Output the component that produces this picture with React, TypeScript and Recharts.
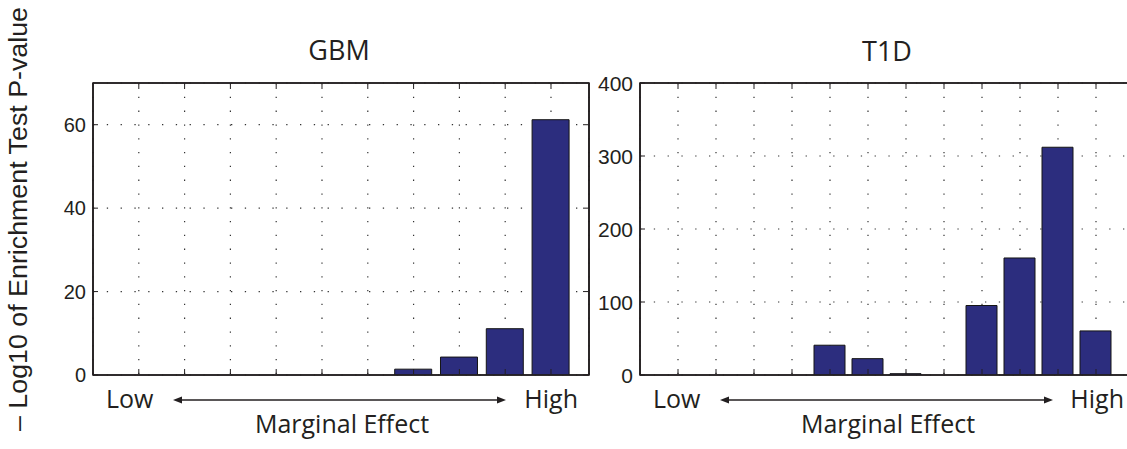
import { Bar, BarChart, CartesianGrid, ReferenceArea, XAxis, YAxis } from "recharts";

// bins run Low -> High marginal effect
const GBM_BINS = [1, 2, 3, 4, 5, 6, 7, 8, 9, 10];
const GBM_VALUES = [0, 0, 0, 0, 0, 0, 1.4, 4.3, 11.1, 61.2];
const GBM_Y_TICKS = [0, 20, 40, 60];

const T1D_BINS = [1, 2, 3, 4, 5, 6, 7, 8, 9, 10, 11, 12];
const T1D_VALUES = [0, 0, 0, 0, 40.8, 22.4, 1.8, 0, 95.2, 160.3, 312, 60.4];
const T1D_Y_TICKS = [0, 100, 200, 300, 400];

const BAR_FILL = "#2c2d7e";
const INK = "#231f20";
const TICK_FONT = "'Liberation Sans', Arial, sans-serif";
const LABEL_FONT = "'Open Sans', sans-serif";
const TICK_LEN = 5;

// ticks point inward like a matlab box
function BottomTick(props: any) {
  const { x, y } = props;
  return <line x1={x} x2={x} y1={y - 1} y2={y - 1 - TICK_LEN} stroke={INK} strokeWidth={1} />;
}

function TopTick(props: any) {
  const { x, y } = props;
  return <line x1={x} x2={x} y1={y + 1} y2={y + 1 + TICK_LEN} stroke={INK} strokeWidth={1} />;
}

function RightTick(props: any) {
  const { x, y } = props;
  return <line x1={x - 1} x2={x - 1 - TICK_LEN} y1={y} y2={y} stroke={INK} strokeWidth={1} />;
}

function makeLeftTick(fontSize: number) {
  return (props: any) => {
    const { x, y, payload } = props;
    return (
      <g>
        <line x1={x} x2={x + TICK_LEN} y1={y} y2={y} stroke={INK} strokeWidth={1} />
        <text
          x={x - 7}
          y={y}
          textAnchor="end"
          dominantBaseline="central"
          fill={INK}
          style={{ fontFamily: TICK_FONT, fontSize }}
        >
          {payload.value}
        </text>
      </g>
    );
  };
}

type PanelProps = {
  bins: number[];
  values: number[];
  yTicks: number[];
  xMax: number;
  yMax: number;
  left: number;
  yAxisWidth: number;
  rightMargin: number;
  barSize: number;
  fontSize: number;
};

function Panel({
  bins,
  values,
  yTicks,
  xMax,
  yMax,
  left,
  yAxisWidth,
  rightMargin,
  barSize,
  fontSize,
}: PanelProps) {
  const data = bins.map((bin, i) => ({ bin, value: values[i] }));
  const axisLine = { stroke: INK, strokeWidth: 1.6 };
  return (
    <div style={{ position: "absolute", left, top: 0 }}>
      <BarChart
        width={600}
        height={449}
        data={data}
        margin={{ top: 82, right: rightMargin - 1, bottom: 73, left: 0 }}
      >
        <CartesianGrid
          xAxisId="bottom"
          yAxisId="left"
          stroke="#333"
          strokeWidth={1.2}
          strokeDasharray="1.3 12.5"
        />
        <XAxis
          xAxisId="bottom"
          dataKey="bin"
          type="number"
          domain={[0, xMax]}
          ticks={bins}
          interval={0}
          allowDataOverflow
          height={1}
          tickSize={0}
          tickMargin={0}
          tickLine={false}
          axisLine={axisLine}
          tick={<BottomTick />}
        />
        <XAxis
          xAxisId="top"
          orientation="top"
          dataKey="bin"
          type="number"
          domain={[0, xMax]}
          ticks={bins}
          interval={0}
          allowDataOverflow
          height={1}
          tickSize={0}
          tickMargin={0}
          tickLine={false}
          axisLine={axisLine}
          tick={<TopTick />}
        />
        <YAxis
          yAxisId="left"
          type="number"
          domain={[0, yMax]}
          ticks={yTicks}
          interval={0}
          allowDataOverflow
          width={yAxisWidth}
          tickSize={0}
          tickMargin={0}
          tickLine={false}
          axisLine={axisLine}
          tick={makeLeftTick(fontSize)}
        />
        <YAxis
          yAxisId="right"
          orientation="right"
          type="number"
          domain={[0, yMax]}
          ticks={yTicks}
          interval={0}
          allowDataOverflow
          width={1}
          tickSize={0}
          tickMargin={0}
          tickLine={false}
          axisLine={axisLine}
          tick={<RightTick />}
        />
        <Bar
          xAxisId="bottom"
          yAxisId="left"
          dataKey="value"
          fill={BAR_FILL}
          stroke="#151515"
          strokeWidth={1}
          barSize={barSize}
          isAnimationActive={false}
        />
        <ReferenceArea
          xAxisId="bottom"
          yAxisId="left"
          x1={0}
          x2={xMax}
          y1={0}
          y2={yMax}
          fill="none"
          fillOpacity={0}
          stroke={INK}
          strokeWidth={1.6}
          strokeOpacity={1}
          ifOverflow="visible"
        />
      </BarChart>
    </div>
  );
}

function Arrow({ x1, x2, y }: { x1: number; x2: number; y: number }) {
  return (
    <g>
      <line x1={x1 + 6} x2={x2 - 6} y1={y} y2={y} stroke={INK} strokeWidth={1.6} />
      <polygon points={`${x1},${y} ${x1 + 9},${y - 3.5} ${x1 + 9},${y + 3.5}`} fill={INK} />
      <polygon points={`${x2},${y} ${x2 - 9},${y - 3.5} ${x2 - 9},${y + 3.5}`} fill={INK} />
    </g>
  );
}

export default function App() {
  const labelStyle = { fontFamily: LABEL_FONT, fontSize: 25 };
  return (
    <div
      style={{
        position: "absolute",
        left: 0,
        top: 0,
        width: 1127,
        height: 449,
        overflow: "hidden",
        background: "#fff",
      }}
    >
      <Panel
        bins={GBM_BINS}
        values={GBM_VALUES}
        yTicks={GBM_Y_TICKS}
        xMax={10.83}
        yMax={70}
        left={0}
        yAxisWidth={93}
        rightMargin={11}
        barSize={37}
        fontSize={20}
      />
      <Panel
        bins={T1D_BINS}
        values={T1D_VALUES}
        yTicks={T1D_Y_TICKS}
        xMax={13}
        yMax={400}
        left={560}
        yAxisWidth={80}
        rightMargin={26}
        barSize={31}
        fontSize={21}
      />
      <svg
        width={1127}
        height={449}
        style={{ position: "absolute", left: 0, top: 0, pointerEvents: "none" }}
      >
        <text
          x={27}
          y={219}
          textAnchor="middle"
          transform="rotate(-90 27 219)"
          fill={INK}
          textLength={424}
          lengthAdjust="spacingAndGlyphs"
          style={{ fontFamily: TICK_FONT, fontSize: 25 }}
        >
          – Log10 of Enrichment Test P-value
        </text>

        <text x={339} y={60} textAnchor="middle" fill={INK} style={{ fontFamily: LABEL_FONT, fontSize: 27 }}>
          GBM
        </text>
        <text x={887} y={61} textAnchor="middle" fill={INK} style={{ fontFamily: LABEL_FONT, fontSize: 27 }}>
          T1D
        </text>

        <text x={106} y={408} fill={INK} style={labelStyle}>Low</text>
        <Arrow x1={173} x2={506} y={400} />
        <text x={578} y={408} textAnchor="end" fill={INK} style={labelStyle}>High</text>
        <text x={342} y={433} textAnchor="middle" fill={INK} style={labelStyle}>Marginal Effect</text>

        <text x={653} y={408} fill={INK} style={labelStyle}>Low</text>
        <Arrow x1={720} x2={1053} y={400} />
        <text x={1124} y={408} textAnchor="end" fill={INK} style={labelStyle}>High</text>
        <text x={888} y={433} textAnchor="middle" fill={INK} style={labelStyle}>Marginal Effect</text>
      </svg>
    </div>
  );
}
